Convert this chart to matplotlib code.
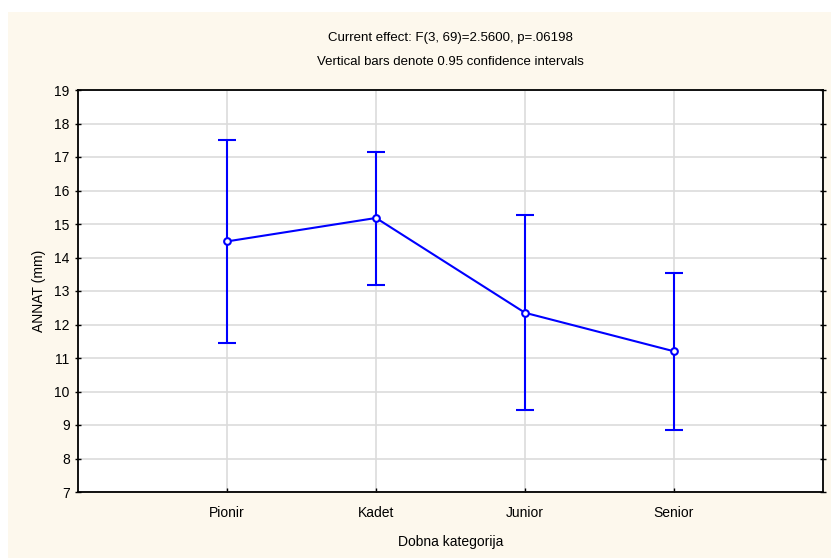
import matplotlib
matplotlib.use("Agg")
import matplotlib.pyplot as plt
from matplotlib.patches import Rectangle

categories = ["Pionir", "Kadet", "Junior", "Senior"]
means = [14.48, 15.18, 12.35, 11.20]
upper = [17.51, 17.15, 15.27, 13.54]
lower = [11.45, 13.18, 9.44, 8.85]
yticks = list(range(7, 20))

plt.rcParams['font.family'] = ['Liberation Sans', 'DejaVu Sans']

W, H = 831, 558
fig = plt.figure(figsize=(W / 100, H / 100), dpi=100)
fig.patch.set_facecolor("white")
bg = Rectangle((8 / W, 0), 1 - 8 / W, 1 - 12 / H, transform=fig.transFigure,
               facecolor="#fdf8ed", edgecolor="none", zorder=-10)
fig.patches.append(bg)

left, right, top, bottom = 78, 823, 90, 492
ax = fig.add_axes([left / W, 1 - bottom / H, (right - left) / W, (bottom - top) / H])
ax.set_facecolor("white")

x = list(range(1, len(categories) + 1))
yerr = [[m - l for m, l in zip(means, lower)], [u - m for m, u in zip(means, upper)]]
ax.errorbar(x, means, yerr=yerr, color="#0000ff", lw=1.5, marker="o", ms=4.8,
            mfc="white", mec="#0000ff", mew=1.5, capsize=6.5, capthick=1.5,
            elinewidth=1.5, zorder=5)

ax.set_xlim(0, 5)
ax.set_ylim(7, 19)
ax.set_xticks(x)
ax.set_xticklabels(categories)
ax.set_yticks(yticks)
ax.grid(True, color="#dcdcdc", lw=1.2)
ax.set_axisbelow(True)
for s in ax.spines.values():
    s.set_linewidth(1.3)
    s.set_color("black")
ax.tick_params(axis="y", direction="out", length=4, width=1, labelsize=10, pad=4)
ax.tick_params(axis="x", direction="in", length=3, width=1, labelsize=10, pad=10)
ax.tick_params(axis="y", which="both", right=True, direction="inout")

ax.set_xlabel("Dobna kategorija", fontsize=10, labelpad=11)
ax.set_ylabel("ANNAT (mm)", fontsize=10, labelpad=6)

fig.text((left + right) / 2 / W, 1 - 38 / H, "Current effect: F(3, 69)=2.5600, p=.06198",
         ha="center", va="center", fontsize=9.5)
fig.text((left + right) / 2 / W, 1 - 62 / H, "Vertical bars denote 0.95 confidence intervals",
         ha="center", va="center", fontsize=9.5)

fig.savefig("out.png", dpi=100, facecolor=fig.get_facecolor())
